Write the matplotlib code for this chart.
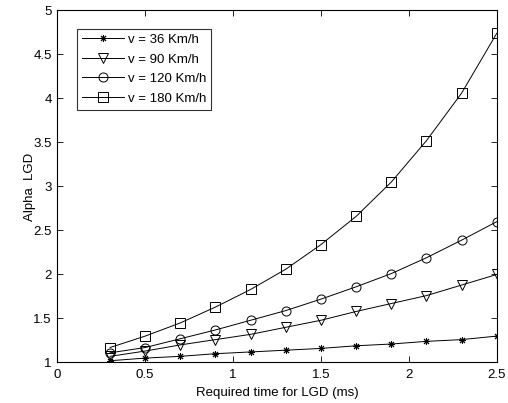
import numpy as np
import matplotlib
matplotlib.use('Agg')
import matplotlib.pyplot as plt

plt.rcParams['font.family'] = ['Liberation Sans', 'DejaVu Sans']

# required time for LGD (ms)
t = [0.3, 0.5, 0.7, 0.9, 1.1, 1.3, 1.5, 1.7, 1.9, 2.1, 2.3, 2.5]

alpha_36 = [1.02, 1.05, 1.07, 1.10, 1.12, 1.14, 1.16, 1.19, 1.21, 1.24, 1.26, 1.30]
alpha_90 = [1.07, 1.13, 1.20, 1.26, 1.32, 1.40, 1.48, 1.58, 1.67, 1.76, 1.88, 2.00]
alpha_120 = [1.11, 1.17, 1.27, 1.37, 1.48, 1.59, 1.72, 1.86, 2.01, 2.19, 2.39, 2.60]
alpha_180 = [1.17, 1.30, 1.45, 1.63, 1.83, 2.06, 2.34, 2.66, 3.05, 3.52, 4.06, 4.74]

labels = ['v = 36 Km/h', 'v = 90 Km/h', 'v = 120 Km/h', 'v = 180 Km/h']
markers = [(8, 2, 0), 'v', 'o', 's']

fig = plt.figure(figsize=(5.08, 4.03), dpi=100)
ax = fig.add_axes([0.1128, 0.1005, 0.865, 0.8735])

for y, lab, m in zip([alpha_36, alpha_90, alpha_120, alpha_180], labels, markers):
    ax.plot(t, y, color='black', linewidth=0.7, marker=m,
            markersize=5 if m == (8, 2, 0) else 6.5,
            markerfacecolor='none', markeredgecolor='black',
            markeredgewidth=0.7, label=lab)

ax.set_xlim(0, 2.5)
ax.set_ylim(1, 5)
ax.set_xticks([0, 0.5, 1, 1.5, 2, 2.5])
ax.set_xticklabels(['0', '0.5', '1', '1.5', '2', '2.5'])
ax.set_yticks([1, 1.5, 2, 2.5, 3, 3.5, 4, 4.5, 5])
ax.set_yticklabels(['1', '1.5', '2', '2.5', '3', '3.5', '4', '4.5', '5'])
ax.tick_params(direction='in', top=True, right=True, labelsize=9.5,
               length=4, width=0.6)
ax.tick_params(axis='x', pad=5)
ax.tick_params(axis='y', pad=4)
for s in ax.spines.values():
    s.set_linewidth(0.8)

ax.set_xlabel('Required time for LGD (ms)', fontsize=9.5, labelpad=4)
ax.set_ylabel('Alpha  LGD', fontsize=9.5, labelpad=-2)

leg = ax.legend(loc='upper left', bbox_to_anchor=(0.044, 0.948), fontsize=9.5,
                frameon=True, fancybox=False, edgecolor='black',
                handlelength=3.2, handletextpad=0.3, labelspacing=0.55,
                borderpad=0.38, borderaxespad=0)
leg.get_frame().set_linewidth(0.8)

plt.savefig('out.png', dpi=100)
